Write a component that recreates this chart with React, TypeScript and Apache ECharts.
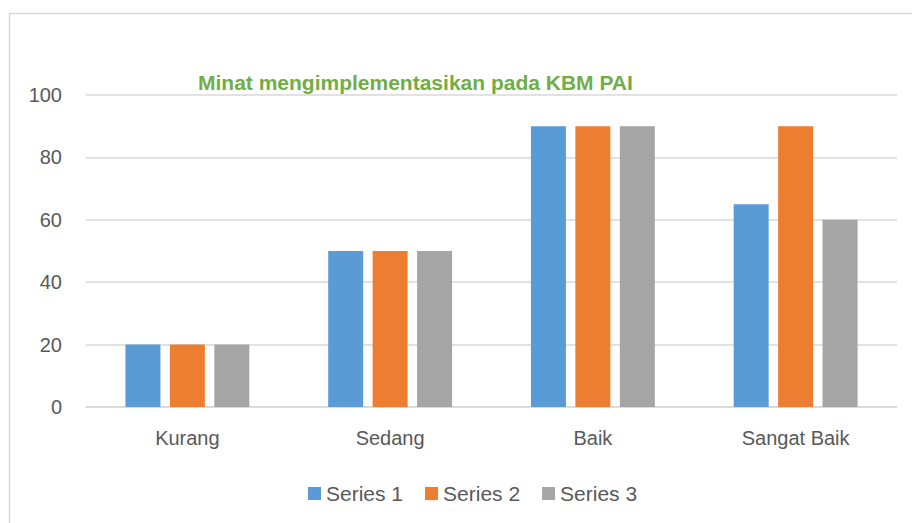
import React, { useEffect, useRef } from "react";
import * as echarts from "echarts";

const categories = ["Kurang", "Sedang", "Baik", "Sangat Baik"];
const series1 = [20, 50, 90, 65];
const series2 = [20, 50, 90, 90];
const series3 = [20, 50, 90, 60];
const seriesNames = ["Series 1", "Series 2", "Series 3"];
const colors = ["#5b9bd5", "#ed7d31", "#a5a5a5"];
const titleText = "Minat mengimplementasikan pada KBM PAI";

export default function App() {
  const ref = useRef<HTMLDivElement>(null);
  useEffect(() => {
    if (!ref.current) return;
    const chart = echarts.init(ref.current, undefined, { renderer: "svg" });
    const font = "'Liberation Sans', Arial, sans-serif";
    const data = [series1, series2, series3];
    chart.setOption({
      animation: false,
      backgroundColor: "#ffffff",
      color: colors,
      title: {
        text: titleText,
        left: 193,
        top: 67,
        textStyle: { color: "#70ad47", fontSize: 21, fontWeight: "bold", fontFamily: font },
      },
      graphic: [
        {
          type: "rect",
          shape: { x: 9.5, y: 13.5, width: 960, height: 560 },
          style: { fill: "none", stroke: "#d9d9d9", lineWidth: 1.5 },
          silent: true,
        },
      ],
      legend: {
        data: seriesNames,
        left: 303,
        top: 478,
        itemWidth: 13,
        itemHeight: 13,
        itemGap: 22,
        icon: "rect",
        textStyle: { color: "#595959", fontSize: 21, fontFamily: font },
      },
      grid: { left: 86, right: 15, top: 95, bottom: 116, containLabel: false },
      xAxis: {
        type: "category",
        data: categories,
        axisLine: { lineStyle: { color: "#d9d9d9", width: 1.5 } },
        axisTick: { show: false },
        axisLabel: { color: "#595959", fontSize: 20, fontFamily: font, margin: 21 },
      },
      yAxis: {
        type: "value",
        min: 0,
        max: 100,
        interval: 20,
        axisLine: { show: false },
        axisTick: { show: false },
        splitLine: { lineStyle: { color: "#d9d9d9", width: 1.5 } },
        axisLabel: { color: "#595959", fontSize: 20, fontFamily: font, margin: 24 },
      },
      series: data.map((d, i) => ({
        name: seriesNames[i],
        type: "bar",
        data: d,
        barWidth: 35,
        barGap: "27%",
        itemStyle: { color: colors[i] },
      })),
    });
    return () => chart.dispose();
  }, []);
  return (
    <div
      ref={ref}
      style={{ position: "absolute", left: 0, top: 0, width: 912, height: 523 }}
    />
  );
}
